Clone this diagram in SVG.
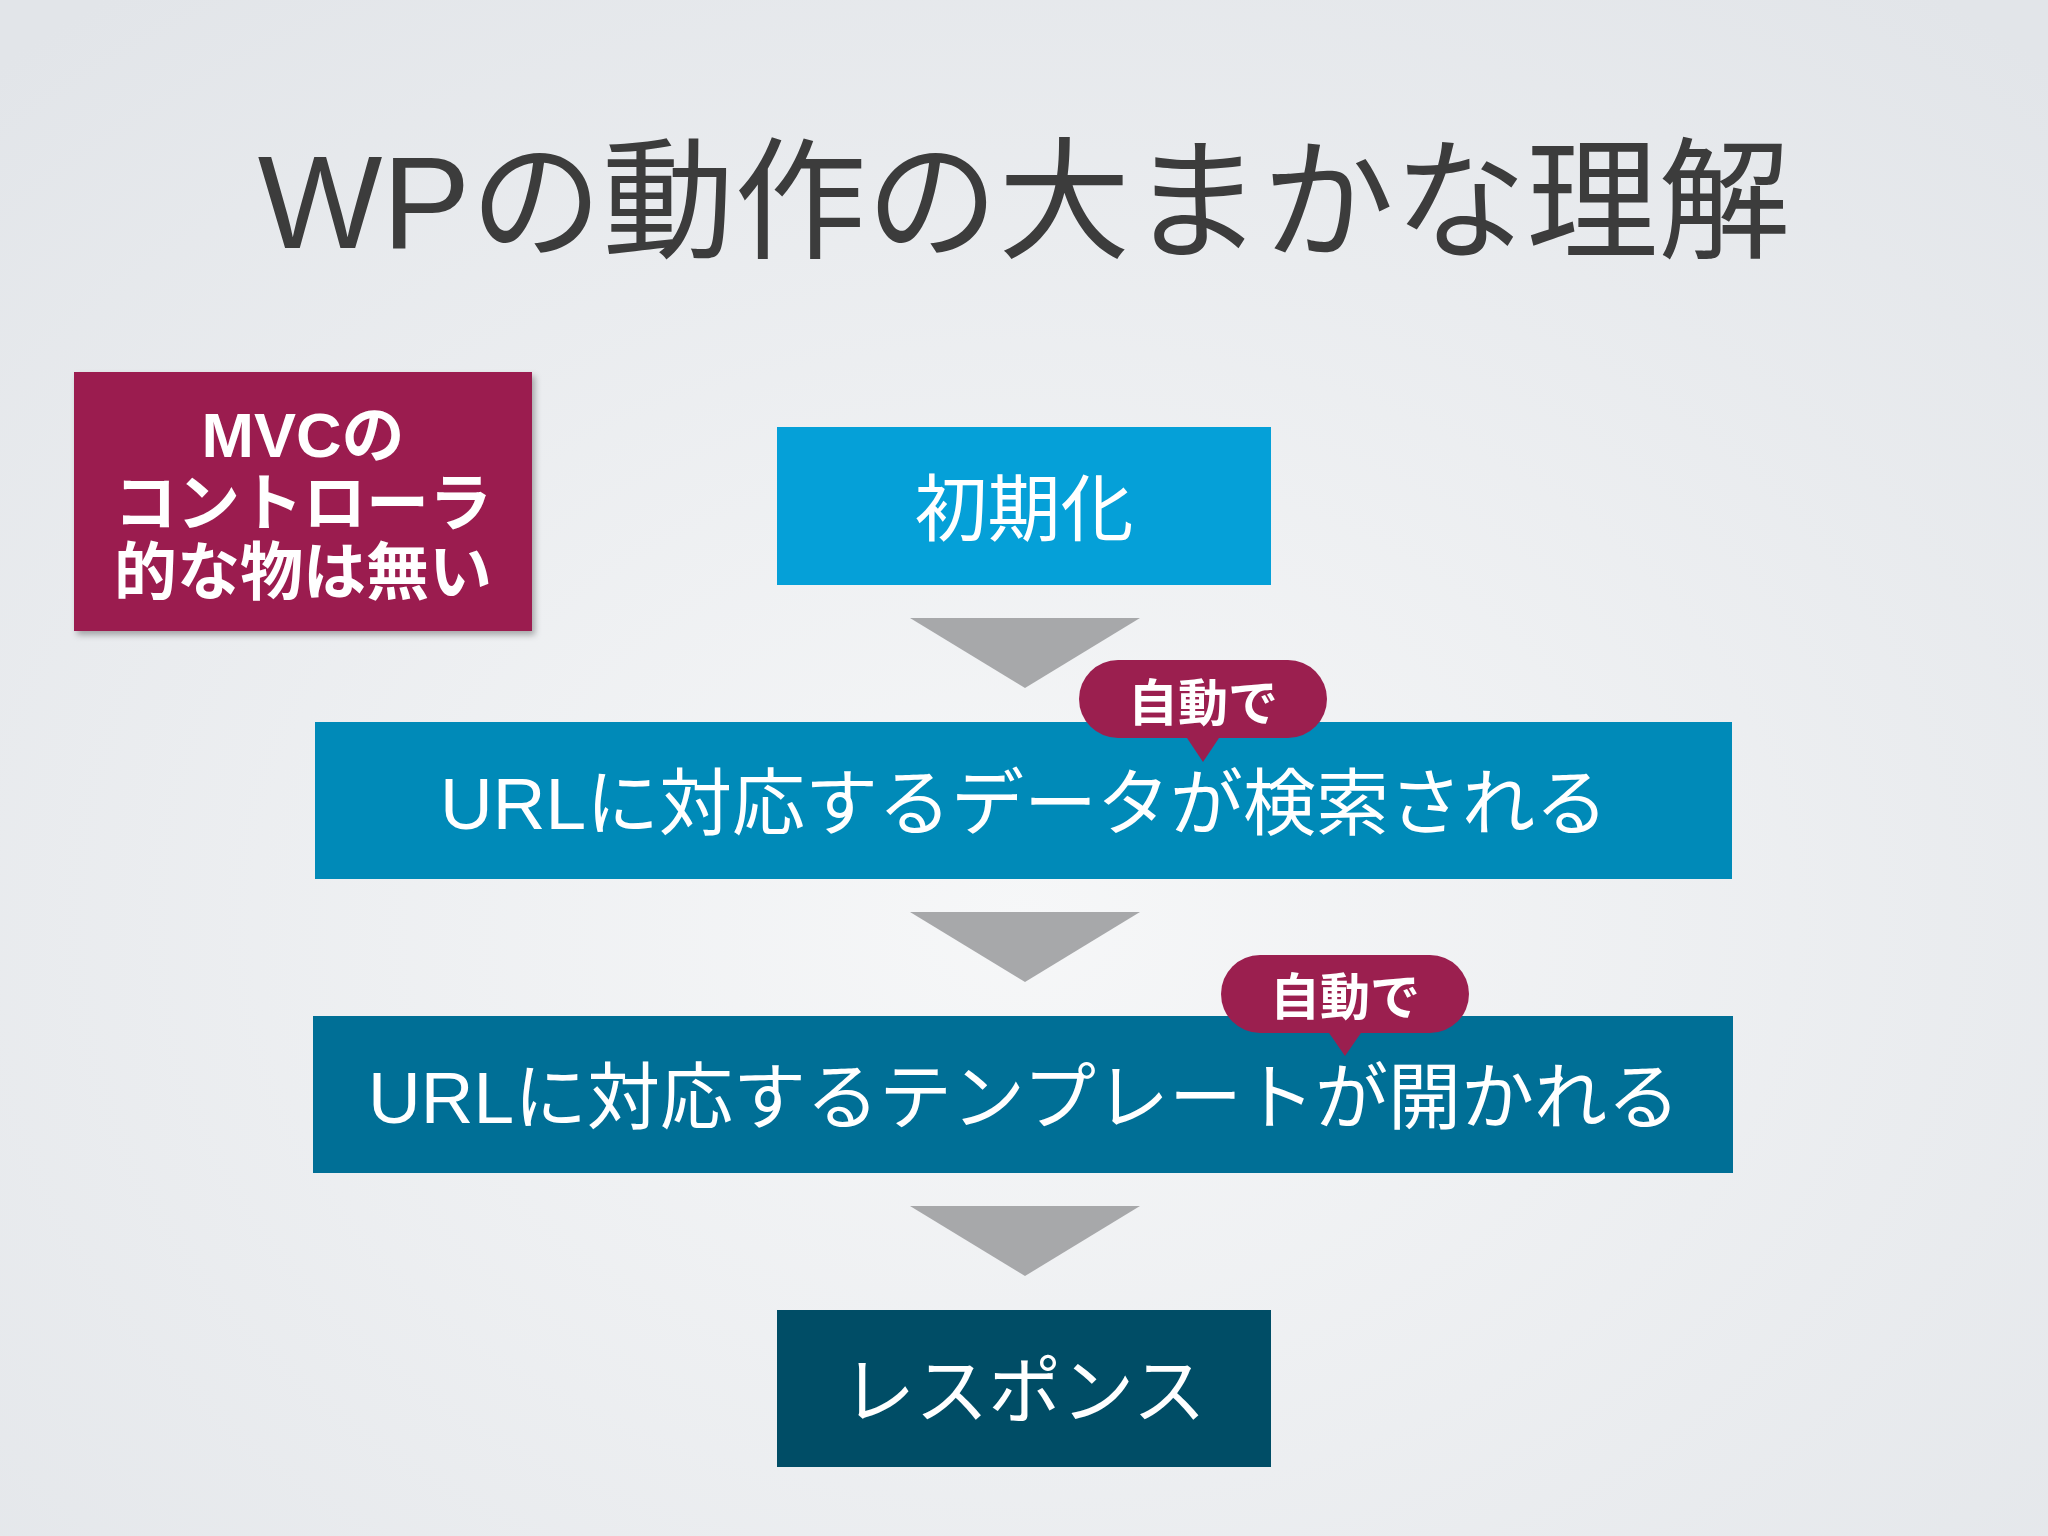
<svg xmlns="http://www.w3.org/2000/svg" width="2048" height="1536" viewBox="0 0 2048 1536">
<defs>
<radialGradient id="bg" cx="50%" cy="60%" r="75%"><stop offset="0" stop-color="#f6f7f8"/><stop offset="1" stop-color="#e2e5e9"/></radialGradient>
<filter id="sh" x="-5%" y="-5%" width="115%" height="115%"><feDropShadow dx="3" dy="4" stdDeviation="3" flood-opacity="0.3"/></filter>
</defs>
<style>
text{font-family:"Liberation Sans","Noto Sans CJK JP",sans-serif;text-anchor:middle}
.w{fill:#fff;font-size:73px}
.b{fill:#fff;font-weight:bold}
.arr{fill:#a7a8aa}
.bub{fill:#9b1f4f}
</style>
<rect width="2048" height="1536" fill="url(#bg)"/>
<text x="1024" y="248" font-size="132" fill="#3c3c3c">WPの動作の大まかな理解</text>
<g id="mvc">
<rect x="74" y="372" width="458" height="259" fill="#9b1f4f" filter="url(#sh)"/>
<text class="b" x="303" y="457" font-size="63">MVCの</text>
<text class="b" x="303" y="525" font-size="63">コントローラ</text>
<text class="b" x="303" y="594" font-size="63">的な物は無い</text>
</g>
<g id="n1"><rect x="777" y="427" width="494" height="158" fill="#05a0d8"/><text class="w" x="1024" y="535" font-size="70">初期化</text></g>
<g id="n2"><rect x="315" y="722" width="1417" height="157" fill="#008ab8"/><text class="w" x="1024" y="829">URLに対応するデータが検索される</text></g>
<g id="n3"><rect x="313" y="1016" width="1420" height="157" fill="#006f96"/><text class="w" x="1024" y="1123">URLに対応するテンプレートが開かれる</text></g>
<g id="n4"><rect x="777" y="1310" width="494" height="157" fill="#004d66"/><text class="w" x="1024" y="1417">レスポンス</text></g>
<g id="connectors">
<polygon class="arr" points="910,618 1140,618 1025,688"/>
<polygon class="arr" points="910,912 1140,912 1025,982"/>
<polygon class="arr" points="910,1206 1140,1206 1025,1276"/>
</g>
<g id="b1"><rect class="bub" x="1079" y="660" width="248" height="78" rx="39"/><polygon class="bub" points="1185,735 1221,735 1203,762"/><text class="b" x="1203" y="721" font-size="50">自動で</text></g>
<g id="b2"><rect class="bub" x="1221" y="955" width="248" height="78" rx="39"/><polygon class="bub" points="1327,1030 1363,1030 1345,1056"/><text class="b" x="1345" y="1015" font-size="50">自動で</text></g>
</svg>
